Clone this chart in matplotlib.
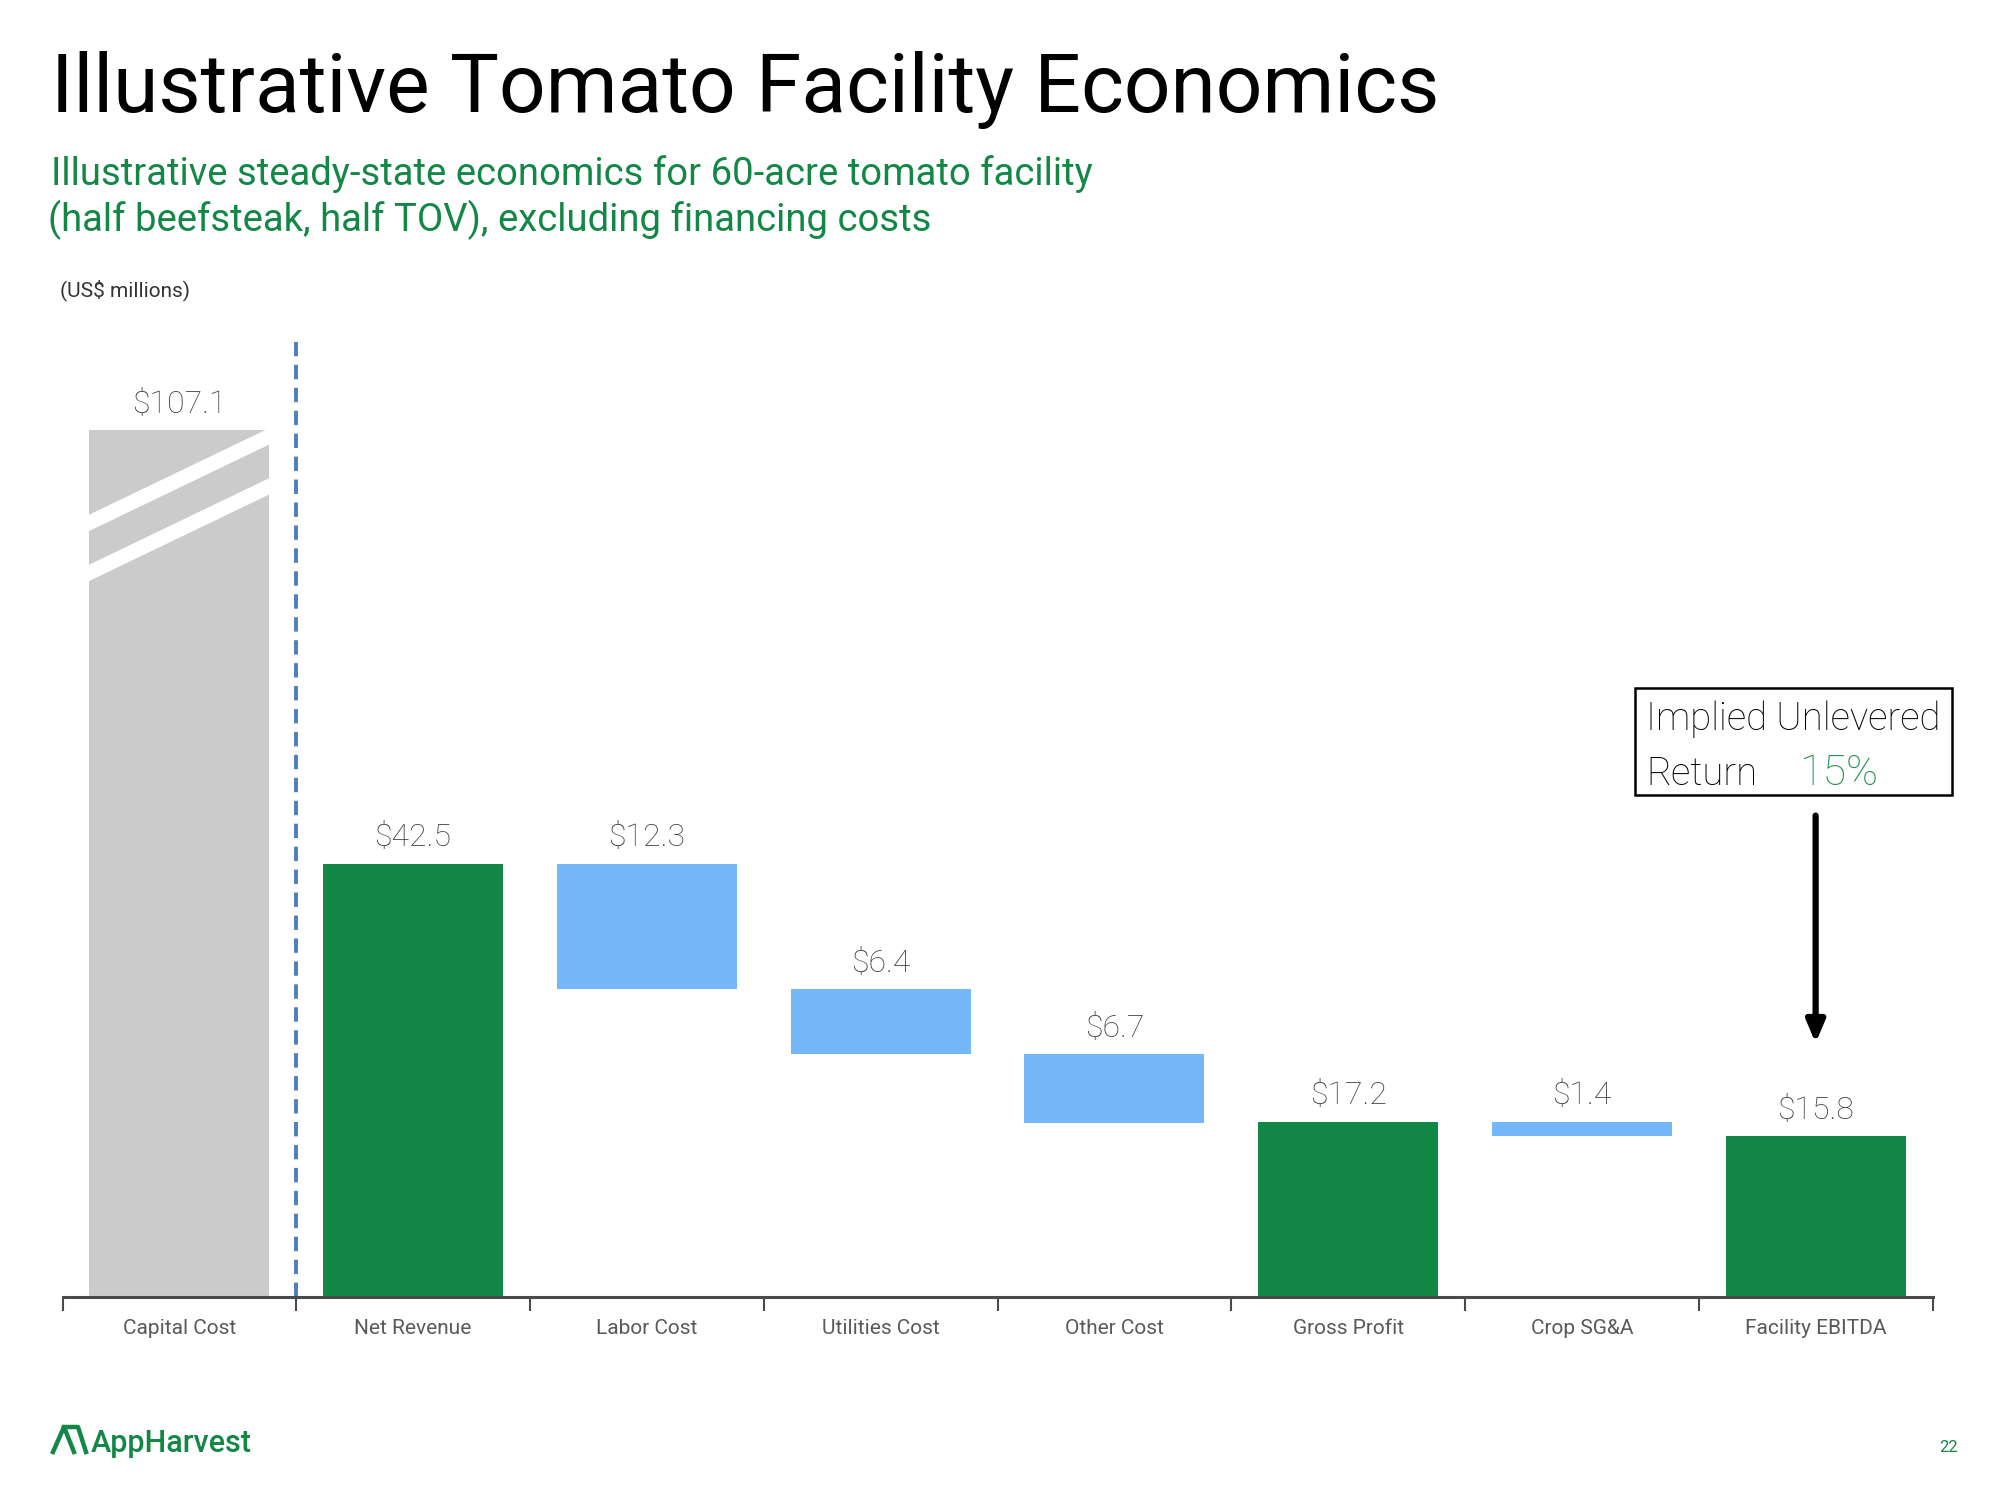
import numpy as np
import matplotlib
matplotlib.use('Agg')
import matplotlib.pyplot as plt
from matplotlib.patches import Polygon, Rectangle
from matplotlib.lines import Line2D

plt.rcParams['font.family'] = ['Roboto', 'DejaVu Sans']

# data (US$ millions)
categories = ['Capital Cost', 'Net Revenue', 'Labor Cost', 'Utilities Cost',
              'Other Cost', 'Gross Profit', 'Crop SG&A', 'Facility EBITDA']
values = [107.1, 42.5, -12.3, -6.4, -6.7, 17.2, -1.4, 15.8]
kinds = ['capex', 'total', 'delta', 'delta', 'delta', 'total', 'delta', 'total']
labels = ['$107.1', '$42.5', '$12.3', '$6.4', '$6.7', '$17.2', '$1.4', '$15.8']
implied_return = '15%'

GREEN = '#138745'
BLUE = '#74b8fa'
GREY = '#cbcbcb'
TXT = '#595959'
capex_cap = 85  # capital cost bar is drawn broken

# waterfall geometry
bottoms, heights, colors = [], [], []
running = 0
for v, k in zip(values, kinds):
    if k == 'capex':
        bottoms.append(0); heights.append(min(v, capex_cap)); colors.append(GREY)
    elif k == 'total':
        bottoms.append(0); heights.append(v); colors.append(GREEN)
        running = v
    else:
        bottoms.append(running + v); heights.append(-v); colors.append(BLUE)
        running += v

fig = plt.figure(figsize=(20, 15), dpi=100)
ax = fig.add_axes([0.03125, 0.1353, 0.935, 0.68])

x = np.arange(len(categories))
w = 0.77
ax.bar(x, heights, bottom=bottoms, width=w, color=colors, zorder=2)

# break marks on capital cost bar
for yl in [75.0, 70.1]:
    band = Polygon([(-w/2 - 0.01, yl), (-w/2 - 0.01, yl + 1.6),
                    (w/2 + 0.01, yl + 1.6 + 8.7), (w/2 + 0.01, yl + 8.7)],
                   closed=True, facecolor='white', edgecolor='none', zorder=3)
    ax.add_patch(band)

# value labels
for xi, b, h, lab in zip(x, bottoms, heights, labels):
    ax.annotate(lab, (xi, b + h), xytext=(0, 8), textcoords='offset points',
                ha='center', va='bottom', fontsize=23, color='#3f3f3f', fontweight='light')

# dashed separator
ax.plot([0.5, 0.5], [0, 93.6], color='#4f7fba', lw=2.8, dashes=(3.7, 2.2), zorder=1)

# implied return arrow
ax.annotate('', xy=(7, 24.9), xytext=(7, 47.2),
            arrowprops=dict(arrowstyle='-|>,head_width=0.55,head_length=1.3',
                            color='black', lw=4.5, shrinkA=0, shrinkB=0))

ax.set_xlim(-0.5, 7.5)
ax.set_ylim(0, 100)
for s in ['top', 'right', 'left']:
    ax.spines[s].set_visible(False)
ax.spines['bottom'].set_color('#4a4a4a')
ax.spines['bottom'].set_linewidth(2.2)
ax.set_yticks([])
ax.set_xticks(x)
ax.set_xticklabels(categories, fontsize=15, color=TXT)
ax.tick_params(axis='x', which='major', length=0, pad=16)
ax.set_xticks(np.arange(-0.5, 8, 1), minor=True)
ax.tick_params(axis='x', which='minor', length=10, width=1.5, color='#4a4a4a')

# header text
fig.text(0.0255, 1 - 112/1500, 'Illustrative Tomato Facility Economics',
         fontsize=59, fontweight='normal', color='black', va='baseline')
fig.text(0.0255, 1 - 185/1500,
         'Illustrative steady-state economics for 60-acre tomato facility',
         fontsize=27.5, color=GREEN, va='baseline')
fig.text(0.024, 1 - 231/1500, '(half beefsteak, half TOV), excluding financing costs',
         fontsize=27.5, color=GREEN, va='baseline')
fig.text(0.03, 1 - 296/1500, '(US$ millions)', fontsize=15, color='#333333', va='baseline')

# return box
fig.patches.append(Rectangle((1635/2000, 1 - 795/1500), 317/2000, 107/1500,
                             transform=fig.transFigure, facecolor='white',
                             edgecolor='black', lw=1.8))
fig.text(1646/2000, 1 - 730/1500, 'Implied Unlevered', fontsize=27.5,
         fontweight='light', color='black', va='baseline')
fig.text(1646/2000, 1 - 785/1500, 'Return', fontsize=27.5, fontweight='light',
         color='black', va='baseline')
fig.text(1799/2000, 1 - 785/1500, implied_return, fontsize=31, fontweight='light',
         color='#1f914c', va='baseline')

# footer
fig.lines.append(Line2D([53/2000, 64/2000, 74/2000], [1 - 1452/1500, 1 - 1427/1500, 1 - 1452/1500],
                        transform=fig.transFigure, color=GREEN, lw=3.2))
fig.lines.append(Line2D([64/2000, 78/2000, 86/2000], [1 - 1427/1500, 1 - 1427/1500, 1 - 1452/1500],
                        transform=fig.transFigure, color=GREEN, lw=3.2))
fig.text(91/2000, 1 - 1452/1500, 'AppHarvest', fontsize=22, fontweight='medium',
         color=GREEN, va='baseline')
fig.text(1939/2000, 1 - 1452/1500, '22', fontsize=12, color=GREEN, va='baseline')

fig.savefig('out.png', dpi=100)
